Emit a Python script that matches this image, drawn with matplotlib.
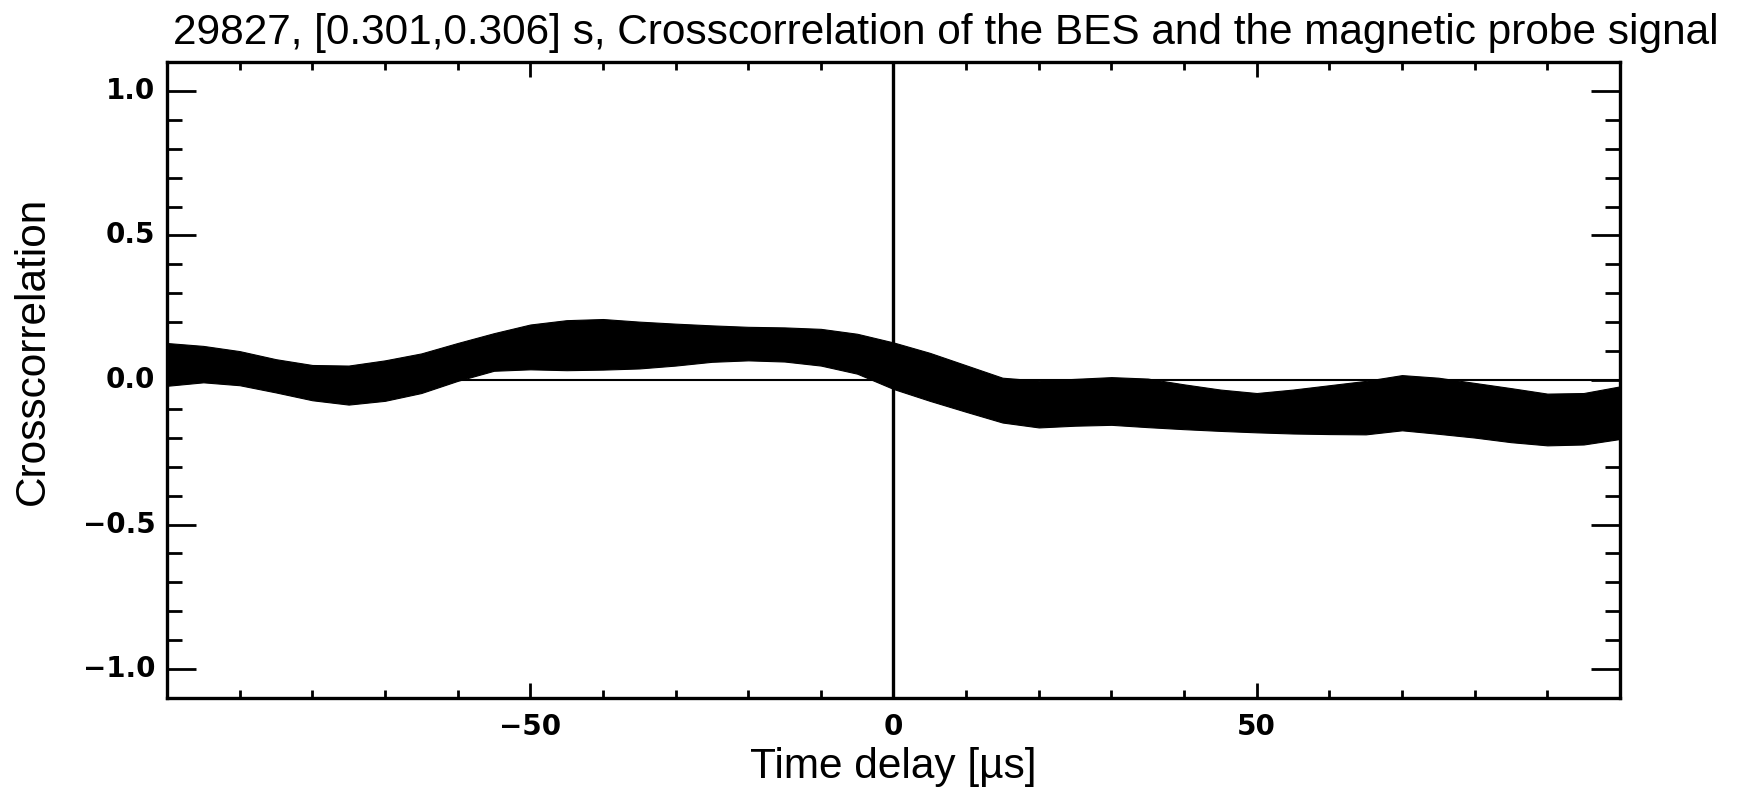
#Crosscorrelation of BES and magnetic probe signal, shot 29827

import numpy as np
import matplotlib.pyplot as plt
from matplotlib.ticker import MultipleLocator

#Time delay grid [us] and the upper / lower edge of the crosscorrelation band
delay = [-100, -95, -90, -85, -80, -75, -70, -65, -60, -55, -50, -45, -40, -35, -30,
         -25, -20, -15, -10, -5, 0, 5, 10, 15, 20, 25, 30, 35, 40, 45, 50, 55, 60,
         65, 70, 75, 80, 85, 90, 95, 100]
upper = [0.128, 0.118, 0.100, 0.072, 0.052, 0.050, 0.068, 0.092, 0.128, 0.162, 0.192,
         0.207, 0.211, 0.202, 0.195, 0.189, 0.184, 0.182, 0.177, 0.160, 0.130, 0.094,
         0.051, 0.008, -0.002, 0.004, 0.010, 0.005, -0.015, -0.033, -0.045, -0.033,
         -0.018, -0.003, 0.017, 0.008, -0.010, -0.028, -0.047, -0.045, -0.022]
lower = [-0.020, -0.008, -0.018, -0.043, -0.070, -0.085, -0.072, -0.045, -0.003, 0.032,
         0.037, 0.034, 0.036, 0.040, 0.050, 0.063, 0.068, 0.064, 0.050, 0.022, -0.031,
         -0.072, -0.110, -0.147, -0.164, -0.158, -0.155, -0.163, -0.170, -0.176, -0.181,
         -0.185, -0.187, -0.188, -0.174, -0.186, -0.199, -0.215, -0.226, -0.223, -0.204]

xticks = [-50, 0, 50]
yticks = [-1.0, -0.5, 0.0, 0.5, 1.0]

title = '29827, [0.301,0.306] s, Crosscorrelation of the BES and the magnetic probe signal'

fig = plt.figure(figsize=(17.43, 7.89), dpi=100)
ax = fig.add_axes([0.0958, 0.1153, 0.8336, 0.8061])

ax.axhline(0, color='black', lw=1.5, zorder=1)
ax.fill_between(delay, lower, upper, color='black', lw=0.8, edgecolor='black', zorder=2)
ax.axvline(0, color='black', lw=2.4, zorder=3)

ax.set_xlim(-100, 100)
ax.set_ylim(-1.1, 1.1)

#IDL style ticks, inward on all sides (lengths in points)
ax.xaxis.set_major_locator(MultipleLocator(50))
ax.xaxis.set_minor_locator(MultipleLocator(10))
ax.yaxis.set_major_locator(MultipleLocator(0.5))
ax.yaxis.set_minor_locator(MultipleLocator(0.1))
ax.tick_params(axis='x', which='major', direction='in', length=10.5, width=2, top=True)
ax.tick_params(axis='x', which='minor', direction='in', length=5.5, width=2, top=True)
ax.tick_params(axis='y', which='major', direction='in', length=21, width=2, right=True)
ax.tick_params(axis='y', which='minor', direction='in', length=10.5, width=2, right=True)
for sp in ax.spines.values():
    sp.set_linewidth(2.4)

ax.set_xticklabels([])
ax.set_yticklabels([])
for t in xticks:
    lab = '\u2212' + str(abs(t)) if t < 0 else str(t)
    ax.text(t, -1.152, lab, ha='center', va='top',
            fontsize=20, fontweight='bold', family='DejaVu Sans')
for t in yticks:
    lab = ('\u2212%.1f' % abs(t)) if t < 0 else '%.1f' % t
    ax.text(-101.6, t, lab, ha='right', va='center',
            fontsize=20, fontweight='bold', family='DejaVu Sans')

fig.text(0.5427, 0.9436, title, ha='center', va='baseline', fontsize=30.5, family='Liberation Sans')
fig.text(0.5126, 0.014, 'Time delay [\u00b5s]', ha='center', va='baseline', fontsize=30.5, family='Liberation Sans')
fig.text(0.019, 1 - 351 / 789, 'Crosscorrelation', ha='center', va='center', rotation=90,
         fontsize=30.5, family='Liberation Sans')

plt.savefig('out.png', dpi=100)
